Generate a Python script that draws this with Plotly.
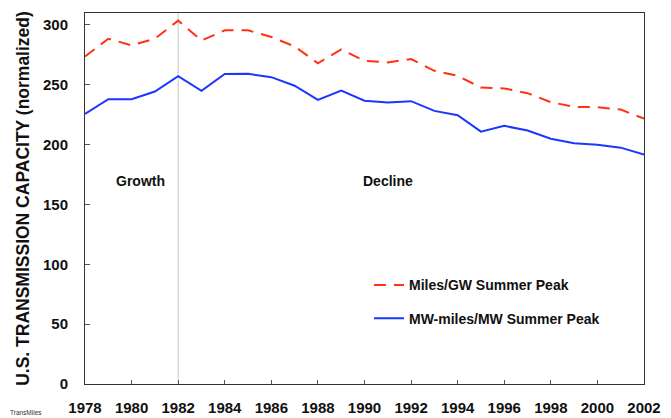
import plotly.graph_objects as go

years = list(range(1978, 2003))
miles_per_gw = [273.7, 288.5, 283, 288.5, 303.6, 287, 295.5, 295.5, 290, 282, 268, 279.6,
                270, 268.7, 271.5, 261.7, 257.5, 247.7, 247, 243, 235.5, 231.6, 231.3, 229.3, 221.8]
mw_miles_per_mw = [225.7, 238, 238, 244.4, 257.3, 245, 259, 259.2, 256.4, 249.2, 237.4, 245.2,
                   236.7, 235.2, 236.3, 228.2, 224.6, 210.9, 215.7, 211.8, 205, 201.2, 200, 197.5, 191.7]
series_names = ["Miles/GW Summer Peak", "MW-miles/MW Summer Peak"]
y_ticks = [0, 50, 100, 150, 200, 250, 300]
x_ticks = list(range(1978, 2003, 2))
divider_year = 1982
phase_labels = ["Growth", "Decline"]
phase_x = [1980.4, 1991.0]
phase_y = [170, 170]

FONT = "Liberation Sans, Arial, sans-serif"

fig = go.Figure()
fig.add_trace(go.Scatter(x=years, y=miles_per_gw, mode="lines", name=series_names[0],
                         legendgroup="a",
                         line=dict(color="rgb(255,50,20)", width=2, dash="12px,8px")))
fig.add_trace(go.Scatter(x=years, y=mw_miles_per_mw, mode="lines", name=series_names[1],
                         legendgroup="b",
                         line=dict(color="rgb(25,55,255)", width=2)))

fig.add_shape(type="line", x0=divider_year, x1=divider_year, y0=0, y1=1, yref="paper",
              line=dict(color="rgb(200,200,200)", width=1), layer="below")

for t, xx, yy in zip(phase_labels, phase_x, phase_y):
    fig.add_annotation(x=xx, y=yy, text="<b>%s</b>" % t, showarrow=False,
                       font=dict(family=FONT, size=14, color="#111"))

fig.add_annotation(x=0, y=0, xref="paper", yref="paper", text="TransMiles",
                   xshift=-77, yshift=-34,
                   showarrow=False, xanchor="left", yanchor="bottom",
                   font=dict(family=FONT, size=6.5, color="#333"))

fig.update_layout(
    width=663, height=410,
    margin=dict(l=77, r=27, t=5, b=34),
    paper_bgcolor="white", plot_bgcolor="white",
    font=dict(family=FONT, color="#111"),
    showlegend=True,
    legend=dict(x=0.508, y=0.309, xanchor="left", yanchor="top",
                bgcolor="rgba(0,0,0,0)", tracegroupgap=12,
                font=dict(family=FONT, size=14, color="#111", weight="bold"),
                itemwidth=30),
    xaxis=dict(range=[1978, 2002], tickvals=x_ticks, showgrid=False, zeroline=False,
               showline=True, linecolor="#333", linewidth=1, mirror=True,
               ticks="inside", ticklen=4, tickcolor="#555", ticklabelstandoff=10,
               automargin=False,
               tickfont=dict(family=FONT, size=15, color="#111", weight="bold")),
    yaxis=dict(range=[0, 310], tickvals=y_ticks, showgrid=False, zeroline=False,
               showline=True, linecolor="#333", linewidth=1, mirror=True,
               ticks="inside", ticklen=5, tickcolor="#555", ticklabelstandoff=13,
               automargin=False,
               tickfont=dict(family=FONT, size=15, color="#111", weight="bold"),
               title=dict(text="U.S. TRANSMISSION CAPACITY (normalized)", standoff=8,
                          font=dict(family=FONT, size=17.5, color="#111", weight="bold"))),
)

fig.write_html("out.html")
